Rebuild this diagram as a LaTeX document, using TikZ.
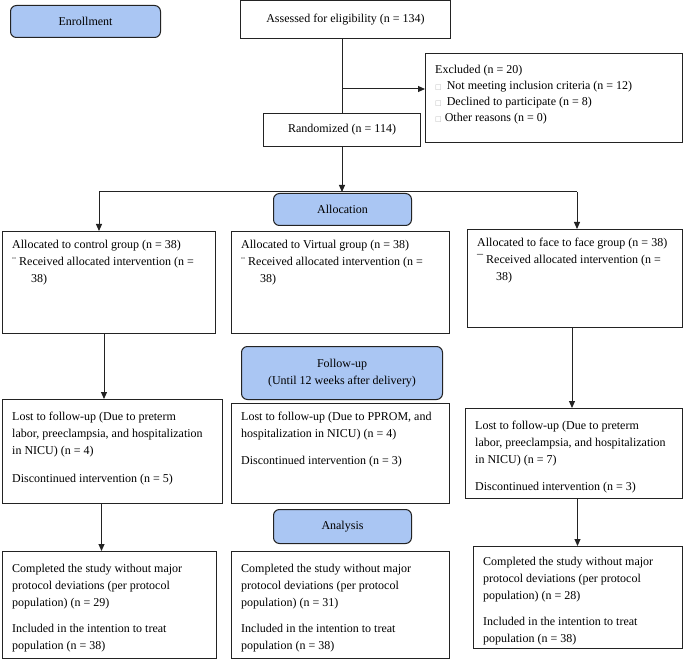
\documentclass[tikz,border=0pt]{standalone}
\usepackage{fontspec}
\setmainfont{Liberation Serif}
\newfontfamily\symfont{DejaVu Sans}
\usetikzlibrary{arrows.meta}
\definecolor{phase}{RGB}{170,198,243}
\definecolor{edge}{RGB}{35,35,35}
\newcommand{\sqbox}{{\symfont\fontsize{7}{7}\selectfont\textcolor{gray!55}{□}}}
\begin{document}
\begin{tikzpicture}[x=1pt,y=-1pt,
  box/.style={draw=edge, line width=1pt, anchor=north west, inner sep=0pt},
  phasebox/.style={box, fill=phase, rounded corners=6pt, font=\fontsize{12}{17}\selectfont, align=center},
  txt/.style={anchor=base west, inner sep=0pt, font=\fontsize{12}{17}\selectfont},
  arr/.style={line width=1pt, draw=edge, -{Triangle[length=7pt,width=6pt]}},
  ln/.style={line width=1pt, draw=edge}]
\useasboundingbox (0,0) rectangle (685,660);

% phase boxes
\node[phasebox, minimum width=150pt, minimum height=32pt] (enroll) at (10,5) {Enrollment};
\node[phasebox, minimum width=138pt, minimum height=32pt] (alloc) at (273,193) {Allocation};
\node[phasebox, minimum width=201pt, minimum height=53pt] (fu) at (241,346) {Follow-up\\(Until 12 weeks after delivery)};
\node[phasebox, minimum width=138pt, minimum height=34pt] (an) at (273,509) {Analysis};

% top boxes
\node[box, minimum width=210pt, minimum height=38pt, font=\fontsize{12}{17}\selectfont] (assess) at (240,0.5) {Assessed for eligibility (n = 134)};
\node[box, minimum width=157pt, minimum height=33pt, font=\fontsize{12}{17}\selectfont] (rand) at (263,113) {Randomized (n = 114)};
\node[box, minimum width=257pt, minimum height=89pt] (excl) at (425,53) {};
\node[txt] (exT) at (435,74) {\fontsize{12}{16}\selectfont\parbox[t]{240pt}{Excluded (n = 20)\\
\sqbox\hspace{5pt}Not meeting inclusion criteria (n = 12)\\
\sqbox\hspace{5pt}Declined to participate (n = 8)\\
\sqbox\hspace{3pt}Other reasons (n = 0)}};

% row 1
\node[box, minimum width=213pt, minimum height=102pt] (r1L) at (2,231) {};
\node[box, minimum width=218pt, minimum height=102pt] (r1M) at (231,231) {};
\node[box, minimum width=215pt, minimum height=98pt] (r1R) at (467,229) {};
\node[txt] (t1L) at (12,249) {\parbox[t]{205pt}{Allocated to control group (n = 38)\\
¨ Received allocated intervention (n =\\ \hspace*{19pt}38)}};
\node[txt] (t1M) at (241,249) {\parbox[t]{205pt}{Allocated to Virtual group (n = 38)\\
¨ Received allocated intervention (n =\\ \hspace*{19pt}38)}};
\node[txt] (t1R) at (477,247) {\parbox[t]{205pt}{Allocated to face to face group (n = 38)\\
¯ Received allocated intervention (n =\\ \hspace*{19pt}38)}};

% row 2
\node[box, minimum width=220pt, minimum height=104pt] (r2L) at (2,399) {};
\node[box, minimum width=218pt, minimum height=100pt] (r2M) at (231,403) {};
\node[box, minimum width=217pt, minimum height=90pt] (r2R) at (465,408) {};
\node[txt] (t2L) at (12,420) {\parbox[t]{210pt}{Lost to follow-up (Due to preterm\\
labor, preeclampsia, and hospitalization\\
in NICU) (n = 4)\\[11pt]
Discontinued intervention (n = 5)}};
\node[txt] (t2M) at (241,420) {\parbox[t]{210pt}{Lost to follow-up (Due to PPROM, and\\
hospitalization in NICU) (n = 4)\\[10pt]
Discontinued intervention (n = 3)}};
\node[txt] (t2R) at (475,429) {\parbox[t]{210pt}{Lost to follow-up (Due to preterm\\
labor, preeclampsia, and hospitalization\\
in NICU) (n = 7)\\[10pt]
Discontinued intervention (n = 3)}};

% row 3
\node[box, minimum width=214pt, minimum height=107pt] (r3L) at (2,551) {};
\node[box, minimum width=218pt, minimum height=107pt] (r3M) at (231,551) {};
\node[box, minimum width=209pt, minimum height=102pt] (r3R) at (473,546) {};
\node[txt] (t3L) at (12,572) {\parbox[t]{205pt}{Completed the study without major\\
protocol deviations (per protocol\\
population) (n = 29)\\[9pt]
Included in the intention to treat\\
population (n = 38)}};
\node[txt] (t3M) at (241,572) {\parbox[t]{205pt}{Completed the study without major\\
protocol deviations (per protocol\\
population) (n = 31)\\[9pt]
Included in the intention to treat\\
population (n = 38)}};
\node[txt] (t3R) at (483,565) {\parbox[t]{200pt}{Completed the study without major\\
protocol deviations (per protocol\\
population) (n = 28)\\[9pt]
Included in the intention to treat\\
population (n = 38)}};

% connectors
\coordinate (ex) at (342,89);
\coordinate (hl) at (342,192);
\coordinate (lx) at (99,192);
\coordinate (rx) at (577,192);
\draw[ln] (rand.north |- assess.south) -- (rand.north);
\draw[arr] (ex) -- (ex -| excl.west);
\draw[arr] (rand.south) -- (hl);
\draw[ln] (lx) -- (rx);
\draw[arr] (lx) -- (lx |- r1L.north);
\draw[arr] (rx) -- (rx |- r1R.north);
\draw[arr] ([xshift=-5pt]r1L.south) -- ([xshift=-5pt]r1L.south |- r2L.north);
\draw[arr] ([xshift=-3pt]r1R.south) -- ([xshift=-3pt]r1R.south |- r2R.north);
\draw[arr] ([xshift=-11pt]r2L.south) -- ([xshift=-11pt]r2L.south |- r3L.north);
\draw[arr] ([xshift=3.5pt]r2R.south) -- ([xshift=3.5pt]r2R.south |- r3R.north);
\end{tikzpicture}
\end{document}
